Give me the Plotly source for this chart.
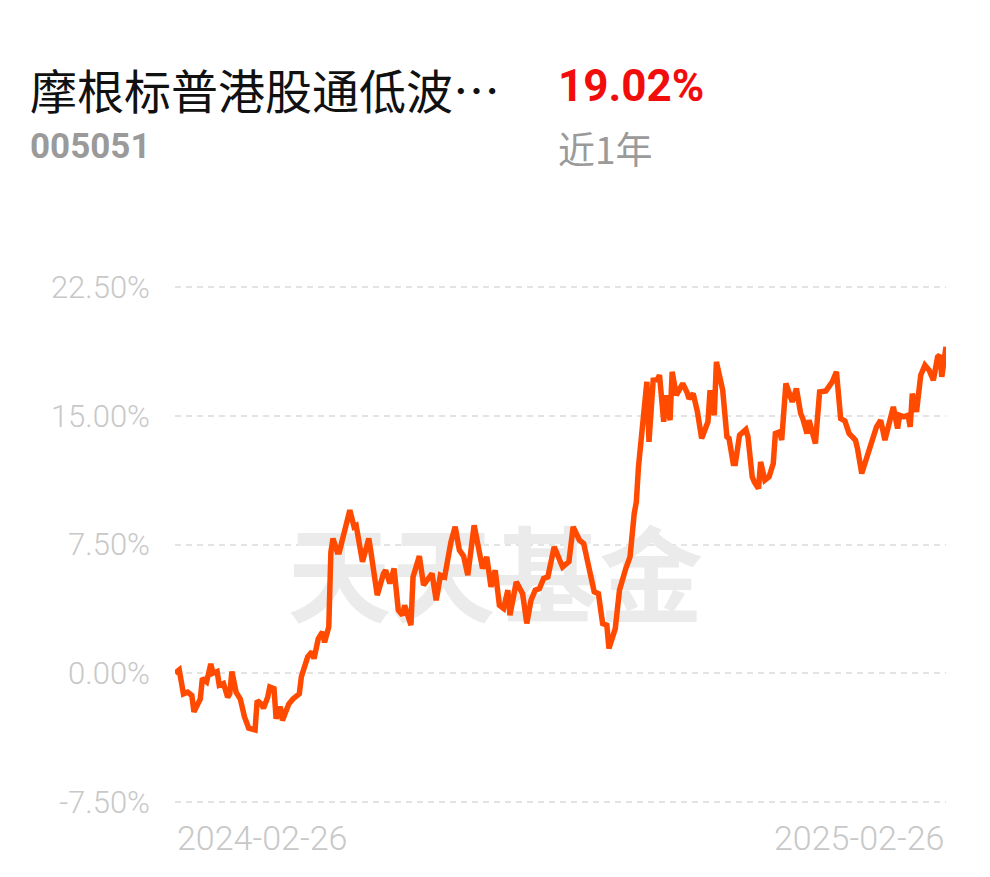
import pandas as pd
import plotly.graph_objects as go

# Fund info
fund_name = "摩根标普港股通低波…"
fund_code = "005051"
period_return = "19.02%"
period_label = "近1年"
watermark = "天天基金"

start_date = "2024-02-26"
x_tick_labels = ["2024-02-26", "2025-02-26"]
y_tick_values = [-7.5, 0, 7.5, 15, 22.5]

# Days since the start date, and the cumulative return (%)
day_offsets = [
    0, 2, 4, 6, 8, 9, 12, 13, 15, 17, 18, 20, 21, 23, 25, 26, 27, 29, 31, 33,
    35, 38, 39, 41, 42, 44, 45, 47, 48, 50, 51, 54, 56, 59, 60, 63, 65, 66, 68, 70,
    71, 73, 74, 75, 77, 78, 81, 83, 85, 86, 89, 92, 93, 96, 99, 100, 102, 104, 106, 108,
    109, 112, 113, 116, 118, 120, 122, 124, 126, 128, 131, 133, 135, 137, 139, 142, 144, 146, 148, 150,
    152, 154, 156, 158, 159, 162, 165, 167, 169, 171, 173, 175, 177, 180, 184, 187, 189, 192, 194, 196,
    199, 201, 203, 205, 206, 209, 211, 214, 216, 218, 219, 220, 222, 224, 225, 227, 229, 230, 232, 233,
    235, 236, 238, 239, 241, 243, 244, 246, 248, 250, 252, 253, 254, 256, 257, 260, 262, 263, 265, 266,
    268, 271, 272, 274, 275, 277, 278, 280, 282, 284, 285, 287, 288, 290, 293, 295, 297, 298, 300, 301,
    304, 306, 309, 311, 312, 314, 316, 318, 320, 323, 324, 326, 329, 331, 333, 335, 337, 339, 341, 343,
    344, 346, 348, 349, 350, 352, 354, 356, 358, 360, 362, 363, 364, 366,
]
returns = [
    0.0, 0.2, -1.2, -1.1, -1.3, -2.25, -1.5, -0.3, -0.5, 0.55, 0.0, 0.1, -0.7, -0.6, -1.4, -1.2, 0.1, -1.1, -1.5, -2.55,
    -3.2, -3.3, -1.6, -1.8, -2.05, -1.4, -0.8, -0.9, -2.65, -1.95, -2.75, -1.8, -1.5, -1.2, -0.2, 0.95, 1.25, 0.85, 2.0, 2.4,
    1.8, 2.7, 7.07, 7.85, 7.07, 7.07, 8.53, 9.5, 8.53, 8.6, 6.49, 7.85, 7.07, 4.55, 5.81, 6.0, 5.23, 6.1, 3.67, 3.38,
    3.96, 2.8, 5.61, 6.82, 5.13, 5.52, 5.81, 4.25, 5.71, 5.61, 7.65, 8.53, 7.17, 6.82, 5.71, 8.62, 7.46, 6.1, 6.78, 5.03,
    6.0, 3.96, 3.77, 4.84, 3.38, 5.32, 4.64, 2.9, 4.25, 4.84, 4.93, 5.52, 5.61, 7.36, 6.19, 6.5, 8.53, 7.75, 7.56, 6.39,
    4.74, 4.64, 2.9, 2.8, 1.44, 2.6, 4.84, 6.1, 6.78, 9.31, 9.98, 12.0, 14.35, 16.98, 13.48, 17.07, 17.1, 17.37, 14.65, 16.2,
    14.74, 17.56, 16.2, 16.39, 16.88, 16.39, 16.0, 16.29, 15.23, 13.68, 14.45, 14.65, 16.49, 15.03, 18.14, 16.49, 13.77, 13.68, 12.22, 12.22,
    13.87, 14.2, 13.77, 11.44, 11.15, 10.76, 12.31, 11.25, 11.44, 12.22, 13.97, 14.06, 13.58, 16.88, 15.81, 16.59, 15.13, 14.84, 13.97, 14.74,
    13.38, 16.39, 16.45, 16.78, 16.98, 17.56, 14.84, 14.7, 13.97, 13.58, 13.09, 11.64, 12.9, 13.77, 14.35, 14.74, 13.58, 14.55, 15.52, 14.26,
    15.03, 14.94, 15.03, 14.35, 16.29, 15.23, 17.37, 17.95, 17.66, 17.07, 18.43, 18.53, 17.27, 19.02,
]

dates = pd.Timestamp(start_date) + pd.to_timedelta(day_offsets, unit="D")

# plot area in pixels: the 22.50% grid line sits at y=287, the -7.50% one at y=802
PLOT_L, PLOT_R = 175, 946
GRID_TOP, GRID_BOT = 287, 802
PAD = 0.12  # small range padding so the edge grid lines are drawn
px_per_unit = (GRID_BOT - GRID_TOP) / (y_tick_values[-1] - y_tick_values[0])
PLOT_T = GRID_TOP - PAD * px_per_unit
PLOT_B = GRID_BOT + PAD * px_per_unit


def to_paper(px, py):
    return (px - PLOT_L) / (PLOT_R - PLOT_L), (PLOT_B - py) / (PLOT_B - PLOT_T)


fig = go.Figure()

# Watermark drawn first so the line sits on top of it
fig.add_trace(go.Scatter(
    x=[pd.Timestamp(start_date) + pd.Timedelta(days=152)],
    y=[4.9],
    mode="text",
    text=[watermark],
    textfont=dict(family="Noto Sans CJK SC", size=104, color="#ebebeb", weight="bold"),
    hoverinfo="skip",
    showlegend=False,
))

fig.add_trace(go.Scatter(
    x=dates,
    y=returns,
    mode="lines",
    line=dict(color="#ff4a00", width=5.5),
    showlegend=False,
))

grid_color = "#e3e3e3"
tick_color = "#c8c8c8"

fig.update_layout(
    width=990,
    height=877,
    margin=dict(l=PLOT_L, r=990 - PLOT_R, t=PLOT_T, b=877 - PLOT_B),
    plot_bgcolor="white",
    paper_bgcolor="white",
    xaxis=dict(
        range=[pd.Timestamp(x_tick_labels[0]), pd.Timestamp(x_tick_labels[1])],
        showgrid=False,
        zeroline=False,
        showticklabels=False,
        showline=False,
    ),
    yaxis=dict(
        range=[y_tick_values[0] - PAD, y_tick_values[-1] + PAD],
        tickvals=y_tick_values,
        ticktext=[f"{v:.2f}%" for v in y_tick_values],
        tickfont=dict(family="Roboto", size=31, color=tick_color, weight=300),
        ticks="",
        ticklabelstandoff=24,
        showgrid=True,
        gridcolor=grid_color,
        gridwidth=2,
        griddash="6px,5px",
        zeroline=False,
        showline=False,
    ),
)

# Date labels at both ends of the axis
for label, anchor in zip(x_tick_labels, ["left", "right"]):
    fig.add_annotation(
        x=pd.Timestamp(label), y=0, xref="x", yref="paper",
        yshift=-12, xanchor=anchor, yanchor="top",
        text=label, showarrow=False,
        font=dict(family="Roboto", size=34, color=tick_color, weight=300),
    )

# Header texts: (text, pixel x, pixel y, font)
headers = [
    (fund_name, 28, 88, dict(family="Noto Sans CJK SC", size=47, color="#111111")),
    (f"<b>{period_return}</b>", 556, 86, dict(family="Roboto", size=44, color="#f20d0d")),
    (f"<b>{fund_code}</b>", 28, 146, dict(family="Roboto", size=35, color="#9a9a9a")),
    (period_label, 556, 148, dict(family="Noto Sans CJK SC", size=37, color="#9a9a9a")),
]
for text, px, py, font in headers:
    ax, ay = to_paper(px, py)
    fig.add_annotation(
        x=ax, y=ay, xref="paper", yref="paper", xanchor="left", yanchor="middle",
        text=text, showarrow=False, font=font,
    )

# drop the page's default body margin so the figure sits at the window origin
fig.write_html(
    "out.html",
    config={"displayModeBar": False},
    post_script="document.body.style.margin = '0px';",
)
